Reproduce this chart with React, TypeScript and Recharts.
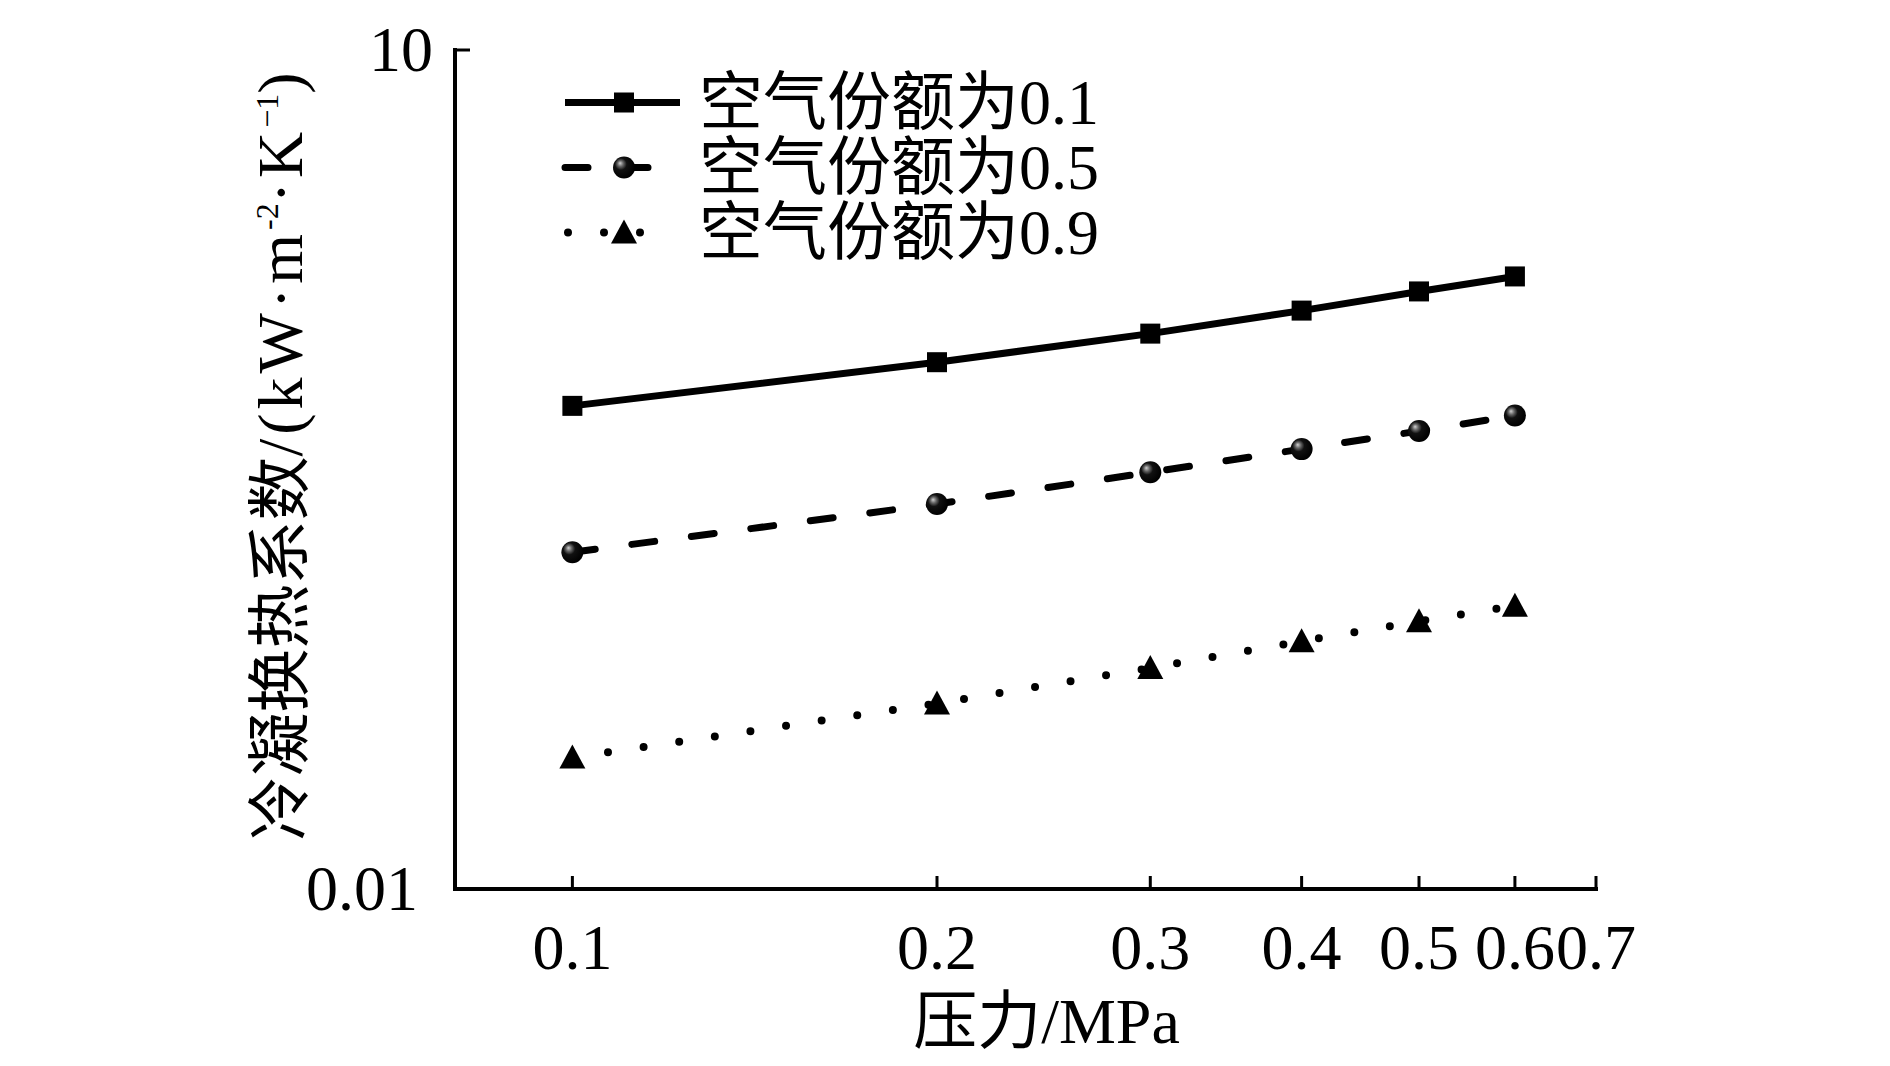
import { LineChart, Line, XAxis, YAxis, Legend } from "recharts";

document.body.style.margin = "0";

// pressure in MPa
const pressure = [0.1, 0.2, 0.3, 0.4, 0.5, 0.6];
// condensation heat transfer coefficient, kW/(m2 K)
const air01 = [0.534, 0.765, 0.968, 1.17, 1.37, 1.55];
const air05 = [0.16, 0.238, 0.309, 0.374, 0.434, 0.493];
const air09 = [0.0295, 0.0461, 0.0617, 0.0769, 0.0907, 0.103];

const seriesNames = ["空气份额为0.1", "空气份额为0.5", "空气份额为0.9"];
const xTicks = [0.1, 0.2, 0.3, 0.4, 0.5, 0.6, 0.7];
const yTicks = [0.01, 10];

const data = pressure.map((p, i) => ({
  p,
  a: air01[i],
  b: air05[i],
  c: air09[i],
}));

const FONT = '"Liberation Serif", "Times New Roman", "Noto Sans CJK SC", serif';

const lineStyles = [
  { key: "a", strokeWidth: 7, dash: undefined, cap: "butt", marker: "square" },
  { key: "b", strokeWidth: 7, dash: "23 37", cap: "round", marker: "ball" },
  { key: "c", strokeWidth: 8, dash: "0 36", cap: "round", marker: "triangle" },
];

function Marker({ kind, cx, cy }: any) {
  if (cx == null || cy == null) return null;
  if (kind === "square") {
    return <rect x={cx - 10} y={cy - 10} width={20} height={20} fill="#000" />;
  }
  if (kind === "ball") {
    return <circle cx={cx} cy={cy} r={11} fill="url(#ball)" />;
  }
  return (
    <polygon
      points={`${cx},${cy - 13} ${cx - 13},${cy + 11} ${cx + 13},${cy + 11}`}
      fill="#000"
    />
  );
}

function XTick({ x, y, payload }: any) {
  return (
    <g>
      <line x1={x} y1={y} x2={x} y2={y - 13} stroke="#000" strokeWidth={3} />
      <text x={x} y={y + 80} textAnchor="middle" fontFamily={FONT} fontSize={64} fill="#000">
        {payload.value}
      </text>
    </g>
  );
}

function YTick({ x, y, payload }: any) {
  const off = payload.value < 1 ? 37 : 22;
  return (
    <g>
      {payload.value > 1 && (
        <line x1={x} y1={y} x2={x + 15} y2={y} stroke="#000" strokeWidth={3} />
      )}
      <text x={x - off} y={y + 21} textAnchor="end" fontFamily={FONT} fontSize={64} fill="#000">
        {payload.value}
      </text>
    </g>
  );
}

function YLabel({ viewBox }: any) {
  const right = viewBox ? viewBox.x + viewBox.width : 455;
  const vy = viewBox?.y ?? 50;
  const vh = viewBox?.height ?? 839;
  const tx = right - 153;
  const ty = vy + vh / 2 - 13;
  return (
    <text
      x={tx}
      y={ty}
      transform={`rotate(-90, ${tx}, ${ty})`}
      textAnchor="middle"
      fontFamily={FONT}
      fontSize={64}
      fill="#000"
    >
      <tspan>冷凝换热系数</tspan>
      <tspan letterSpacing={4}>/(kW·m</tspan>
      <tspan fontSize={32} dy={-24}>-2</tspan>
      <tspan dy={24} letterSpacing={4}>·K</tspan>
      <tspan fontSize={32} dy={-24}>−1</tspan>
      <tspan dy={24}>)</tspan>
    </text>
  );
}

function XLabel({ viewBox }: any) {
  const vx = viewBox?.x ?? 455;
  const vy = viewBox?.y ?? 889;
  const vw = viewBox?.width ?? 1141;
  return (
    <text
      x={vx + vw / 2 + 21}
      y={vy + 154}
      textAnchor="middle"
      fontFamily={FONT}
      fontSize={64}
      fill="#000"
    >
      压力/MPa
    </text>
  );
}

function LegendRows() {
  return (
    <div style={{ fontFamily: FONT, fontSize: 64, color: "#000" }}>
      {lineStyles.map((s, i) => (
        <div key={s.key} style={{ display: "flex", alignItems: "center", height: 65 }}>
          <svg width={139} height={65} style={{ display: "block" }}>
            <line
              x1={s.dash === "0 36" ? 8 : 5}
              y1={32.5}
              x2={s.dash === "0 36" ? 116 : 120}
              y2={32.5}
              stroke="#000"
              strokeWidth={s.strokeWidth}
              strokeDasharray={s.dash}
              strokeLinecap={s.cap as any}
            />
            <Marker kind={s.marker} cx={64} cy={32.5} />
          </svg>
          <span style={{ whiteSpace: "nowrap", lineHeight: "65px" }}>{seriesNames[i]}</span>
        </div>
      ))}
    </div>
  );
}

export default function App() {
  return (
    <div style={{ background: "#fff", width: 1890, height: 1066 }}>
      <LineChart
        width={1890}
        height={1066}
        data={data}
        margin={{ top: 50, right: 294, bottom: 0, left: 255 }}
      >
        <defs>
          <radialGradient id="ball" cx="0.4" cy="0.4" r="0.6" fx="0.32" fy="0.3">
            <stop offset="0" stopColor="#d0d0d0" />
            <stop offset="0.22" stopColor="#666" />
            <stop offset="0.45" stopColor="#111" />
            <stop offset="1" stopColor="#000" />
          </radialGradient>
        </defs>
        <XAxis
          dataKey="p"
          type="number"
          scale="log"
          domain={[0.08, 0.7]}
          allowDataOverflow
          ticks={xTicks}
          interval={0}
          height={177}
          tickSize={0}
          tickMargin={0}
          tickLine={false}
          tick={<XTick />}
          axisLine={{ stroke: "#000", strokeWidth: 4, strokeLinecap: "square" }}
          label={<XLabel />}
        />
        <YAxis
          type="number"
          scale="log"
          domain={[0.01, 10]}
          allowDataOverflow
          ticks={yTicks}
          interval={0}
          width={200}
          tickSize={0}
          tickMargin={0}
          tickLine={false}
          tick={<YTick />}
          axisLine={{ stroke: "#000", strokeWidth: 4, strokeLinecap: "square" }}
          label={<YLabel />}
        />
        <Legend
          content={<LegendRows />}
          layout="vertical"
          align="center"
          verticalAlign="middle"
          wrapperStyle={{ top: 70, left: 560, width: 700 }}
        />
        {lineStyles.map((s) => (
          <Line
            key={s.key}
            dataKey={s.key}
            type="linear"
            stroke="#000"
            strokeWidth={s.strokeWidth}
            strokeDasharray={s.dash}
            strokeLinecap={s.cap as any}
            isAnimationActive={false}
            activeDot={false}
            dot={(p: any) => <Marker key={`${s.key}-${p.index}`} kind={s.marker} cx={p.cx} cy={p.cy} />}
          />
        ))}
      </LineChart>
    </div>
  );
}
